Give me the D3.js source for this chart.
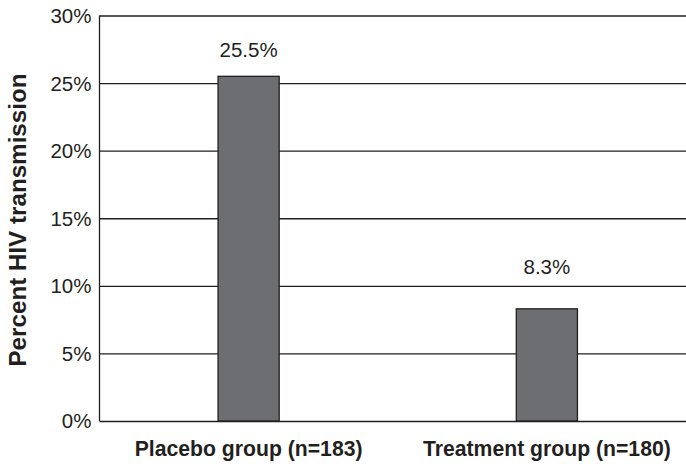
<!DOCTYPE html>
<html>
<head>
<meta charset="utf-8">
<script src="https://cdn.jsdelivr.net/npm/d3@7"></script>
<style>
  html, body { margin: 0; padding: 0; background: #fff; }
  svg { display: block; font-family: "Liberation Sans", Arial, Helvetica, sans-serif; }
</style>
</head>
<body>
<svg id="chart" width="686" height="464"></svg>
<script>
// HIV transmission by study arm
const groups = ["Placebo group (n=183)", "Treatment group (n=180)"];
const transmission = [25.5, 8.3];
const valueLabels = ["25.5%", "8.3%"];
const labelOffsets = [19, 35];
const yTicks = [0, 5, 10, 15, 20, 25, 30];
const yTitle = "Percent HIV transmission";

const svg = d3.select("#chart");
const margin = { left: 99.5, right: -10, top: 15.5, bottom: 43 };
const W = 686, H = 464;

const x = d3.scaleBand()
  .domain(groups)
  .range([margin.left, W - margin.right])
  .paddingInner(0.795)
  .paddingOuter(0.3975);

const y = d3.scaleLinear()
  .domain([0, 30])
  .range([H - margin.bottom, margin.top]);

const ink = "#231f20";

// horizontal gridlines with tick labels
const yAxis = d3.axisLeft(y)
  .tickValues(yTicks)
  .tickFormat(d => d + "%")
  .tickSize(-(W - margin.left))
  .tickPadding(8);

const gy = svg.append("g")
  .attr("transform", `translate(${margin.left},0)`)
  .call(yAxis);
gy.select(".domain").remove();
gy.selectAll(".tick line").attr("stroke", ink).attr("stroke-width", 1.3);
gy.selectAll(".tick text")
  .attr("fill", "#231f20")
  .attr("font-size", 20.5)
  .attr("dy", "0.34em");

// left axis line
svg.append("line")
  .attr("x1", margin.left).attr("x2", margin.left)
  .attr("y1", y(30)).attr("y2", y(0))
  .attr("stroke", ink).attr("stroke-width", 1.3);

// bars
svg.selectAll("rect.bar")
  .data(groups)
  .join("rect")
  .attr("class", "bar")
  .attr("x", d => x(d))
  .attr("width", x.bandwidth())
  .attr("y", (d, i) => y(transmission[i]))
  .attr("height", (d, i) => y(0) - y(transmission[i]))
  .attr("fill", "#6d6e71")
  .attr("stroke", ink)
  .attr("stroke-width", 1.3);

// value labels above bars
svg.selectAll("text.value")
  .data(groups)
  .join("text")
  .attr("class", "value")
  .attr("x", d => x(d) + x.bandwidth() / 2)
  .attr("y", (d, i) => y(transmission[i]) - labelOffsets[i])
  .attr("text-anchor", "middle")
  .attr("font-size", 20.5)
  .attr("fill", "#231f20")
  .text((d, i) => valueLabels[i]);

// category labels
svg.selectAll("text.cat")
  .data(groups)
  .join("text")
  .attr("class", "cat")
  .attr("x", d => x(d) + x.bandwidth() / 2)
  .attr("y", 456)
  .attr("text-anchor", "middle")
  .attr("font-size", 21.2)
  .attr("font-weight", "bold")
  .attr("fill", "#231f20")
  .text(d => d);

// y-axis title
svg.append("text")
  .attr("transform", `translate(26,220) rotate(-90)`)
  .attr("text-anchor", "middle")
  .attr("font-size", 24.2)
  .attr("font-weight", "bold")
  .attr("fill", "#231f20")
  .text(yTitle);
</script>
</body>
</html>
